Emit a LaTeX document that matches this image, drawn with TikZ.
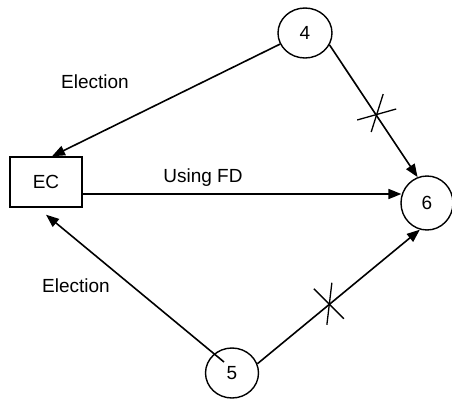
\documentclass[tikz,border=0pt]{standalone}
\usepackage{fontspec}
\setmainfont{Liberation Sans}
\usetikzlibrary{arrows.meta,shapes.geometric}
\begin{document}
\begin{tikzpicture}[x=1pt,y=-1pt,
  every node/.style={font=\fontsize{19}{23}\selectfont},
  proc/.style={draw,ellipse,line width=1.4pt,inner sep=0pt,minimum width=54pt,minimum height=50pt},
  ecbox/.style={draw,rectangle,line width=1.4pt,inner sep=0pt,minimum width=72pt,minimum height=50pt},
  arr/.style={line width=1.6pt,-{Triangle[length=13pt,width=10pt]}},
  crossline/.style={line width=1.3pt},
  lbl/.style={anchor=base,inner sep=0pt}]
\useasboundingbox (0,0) rectangle (452,399);
\node[proc] (n4) at (305,33) {4};
\node[proc,minimum width=52pt,minimum height=54pt] (n6) at (427,203) {6};
\node[proc,minimum width=53pt] (n5) at (232,373) {5};
\node[ecbox] (EC) at (46,182) {EC};
% edges
\draw[arr] (n4.204) -- ([xshift=6pt]EC.north);
\draw[arr] (n4.334) -- (n6.110) coordinate[pos=0.53] (c1);
\draw[arr] ([yshift=-12pt]EC.east) -- ([yshift=-12pt]EC.east -| n6.163);
\draw[arr] ([shift={(-8pt,11pt)}]n5.center) -- ([yshift=-7pt]EC.south);
\draw[arr] (n5.20) -- (n6.255) coordinate[pos=0.44] (c2);
% crosses
\draw[crossline] ([shift={(-19pt,-5pt)}]c1) -- ([shift={(20pt,6pt)}]c1);
\draw[crossline] ([shift={(7pt,21pt)}]c1) -- ([shift={(-5pt,-17pt)}]c1);
\draw[crossline] ([shift={(-15pt,16pt)}]c2) -- ([shift={(15pt,-14pt)}]c2);
\draw[crossline] ([shift={(3pt,22pt)}]c2) -- ([shift={(-2pt,-20pt)}]c2);
% labels
\node[lbl] (l1) at (95,88) {Election};
\node[lbl] (l2) at (203,182) {Using FD};
\node[lbl] (l3) at (76,292) {Election};
\end{tikzpicture}
\end{document}
